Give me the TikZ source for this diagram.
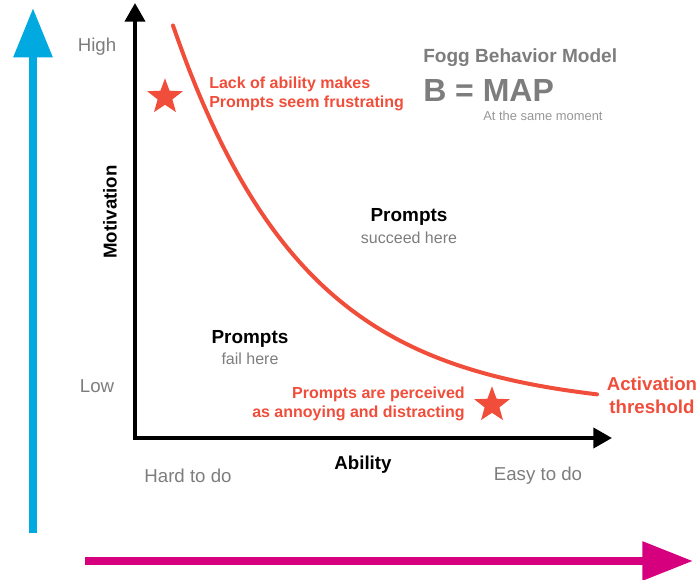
\documentclass[tikz,border=0pt]{standalone}
\usepackage{fontspec}
\setmainfont{Liberation Sans}
\usetikzlibrary{shapes.geometric}
\usetikzlibrary{arrows.meta}
\definecolor{foggred}{RGB}{240,78,58}
\definecolor{foggblue}{RGB}{0,169,224}
\definecolor{foggpink}{RGB}{214,0,127}
\definecolor{labelgray}{RGB}{125,125,125}
\definecolor{notegray}{RGB}{150,150,150}
\begin{document}
\begin{tikzpicture}[x=0.75pt,y=-0.75pt]
		\tikzstyle{every node}=[inner sep=0pt];
		\tikzstyle{scale label}=[text=labelgray,font=\fontsize{14}{16}\selectfont];
		\tikzstyle{axis title}=[font=\fontsize{14}{16}\selectfont\bfseries];
		\tikzstyle{red note}=[text=foggred,font=\fontsize{12}{14}\selectfont\bfseries];
		\tikzstyle{region title}=[font=\fontsize{14.2}{16}\selectfont\bfseries];
		\tikzstyle{region sub}=[text=labelgray,font=\fontsize{12}{14}\selectfont];
		\tikzstyle{red star}=[star,star points=5,star point ratio=2.4,fill=foggred,minimum size=28pt];
		\useasboundingbox (0,0) rectangle (699,580);
		\coordinate (origin) at (135,438);
		\coordinate (ytip) at (135,3);
		\coordinate (xtip) at (612,438);
		\coordinate (bluebase) at (33,533);
		\coordinate (bluetip) at (33,8);
		\coordinate (pinkbase) at (85,561);
		\coordinate (pinktip) at (693,561);
		\draw[foggblue, line width=6pt, -{Triangle[length=37pt,width=28pt]}] (bluebase) -- (bluetip);
		\draw[foggpink, line width=6pt, -{Triangle[length=38pt,width=28pt]}] (pinkbase) -- (pinktip);
		\draw[line width=3pt, {Triangle[length=14pt,width=15pt]}-{Triangle[length=14pt,width=15pt]}] (ytip) |- (xtip);
		\draw[foggred, line width=3pt, line cap=round] plot[domain=173:597, samples=80, smooth] (\x, {410-302*exp(-(\x-205)/132.5)});
		\path (97,47)   node[scale label] (high) {High};
		\path (97,386)  node[scale label] (low) {Low};
		\path (110,212) node[axis title, rotate=90] (motivation) {Motivation};
		\path (188,476) node[scale label] (hard) {Hard to do};
		\path (363,465) node[axis title] (ability) {Ability};
		\path (538,476) node[scale label] (easy) {Easy to do};
		\path (165,97)  node[red star] (star1) {};
		\path (492,405) node[red star] (star2) {};
		\path (209,94)  node[red note, anchor=west, align=left] (frustrating) {Lack of ability makes\\Prompts seem frustrating};
		\path (465,404) node[red note, anchor=east, align=right] (annoying) {Prompts are perceived\\as annoying and distracting};
		\path (652,395) node[text=foggred, font=\fontsize{14}{17}\selectfont\bfseries, align=center] (threshold) {Activation\\threshold};
		\path (423,58)  node[text=labelgray, font=\fontsize{14.3}{16}\selectfont\bfseries, anchor=west] (model) {Fogg Behavior Model};
		\path (423,90)  node[text=labelgray, font=\fontsize{24}{28}\selectfont\bfseries, anchor=west] (formula) {B = MAP};
		\path (483,116) node[text=notegray, font=\fontsize{9.7}{11}\selectfont, anchor=west] (moment) {At the same moment};
		\path (409,217) node[region title] (succeed) {Prompts};
		\path (409,238) node[region sub] (succeedsub) {succeed here};
		\path (250,339) node[region title] (fail) {Prompts};
		\path (250,359) node[region sub] (failsub) {fail here};
		\end{tikzpicture}
\end{document}
